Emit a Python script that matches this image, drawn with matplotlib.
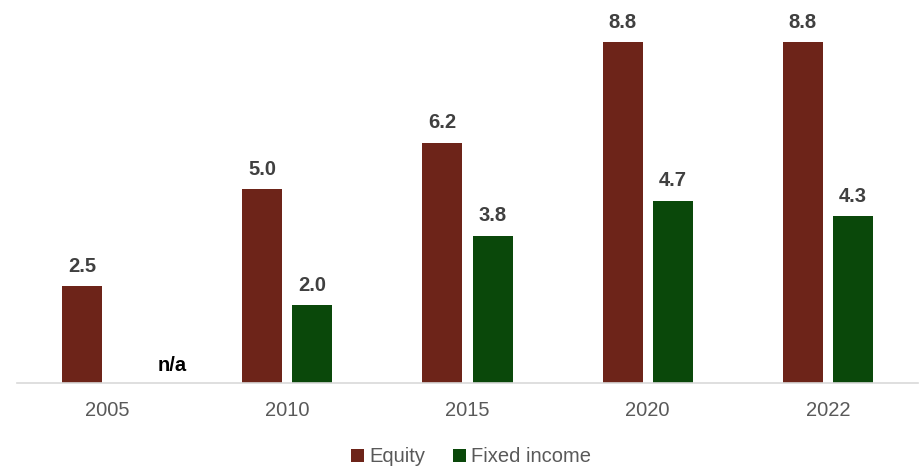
import numpy as np
import matplotlib.pyplot as plt

plt.rcParams['font.family'] = ['Liberation Sans', 'DejaVu Sans']

years = ['2005', '2010', '2015', '2020', '2022']
equity = [2.5, 5.0, 6.2, 8.8, 8.8]
fixed_income = [None, 2.0, 3.8, 4.7, 4.3]

equity_color = '#6D2419'
fixed_color = '#0A480A'
value_color = '#404040'
axis_text = '#595959'

fig = plt.figure(figsize=(9.24, 4.67), dpi=100)
ax = fig.add_axes([17 / 924, 84 / 467, 901 / 924, 383 / 467])

x = np.arange(len(years))
w = 0.222
off = 0.139

ax.bar(x - off, equity, w, color=equity_color, label='Equity')
fi_vals = [v if v is not None else 0 for v in fixed_income]
ax.bar(x + off, fi_vals, w, color=fixed_color, label='Fixed income')

for i, v in enumerate(equity):
    ax.text(x[i] - off, v + 0.37, f'{v:.1f}', ha='center', va='baseline',
            fontsize=14.5, fontweight='bold', color=value_color)
for i, v in enumerate(fixed_income):
    if v is None:
        # no fixed income figure for this year
        ax.text(x[i] + 0.36, 0.3, 'n/a', ha='center', va='baseline',
                fontsize=14.5, fontweight='bold', color='black')
    else:
        ax.text(x[i] + off, v + 0.37, f'{v:.1f}', ha='center', va='baseline',
                fontsize=14.5, fontweight='bold', color=value_color)

ax.set_xlim(-0.5, len(years) - 0.5)
ax.set_ylim(0, 9.88)
ax.set_xticks(x)
ax.set_xticklabels(years, fontsize=14.5, color=axis_text)
ax.tick_params(axis='x', length=0, pad=13)
ax.set_yticks([])
for s in ['top', 'right', 'left']:
    ax.spines[s].set_visible(False)
ax.spines['bottom'].set_color('#d9d9d9')
ax.spines['bottom'].set_linewidth(1.2)

fig.legend(loc='center', bbox_to_anchor=(471 / 924, 1 - 457 / 467), ncol=2,
           frameon=False, fontsize=14.5, handlelength=0.62, handleheight=0.62,
           handletextpad=0.25, columnspacing=1.4, labelcolor=axis_text,
           borderpad=0)

fig.savefig('out.png', dpi=100)
